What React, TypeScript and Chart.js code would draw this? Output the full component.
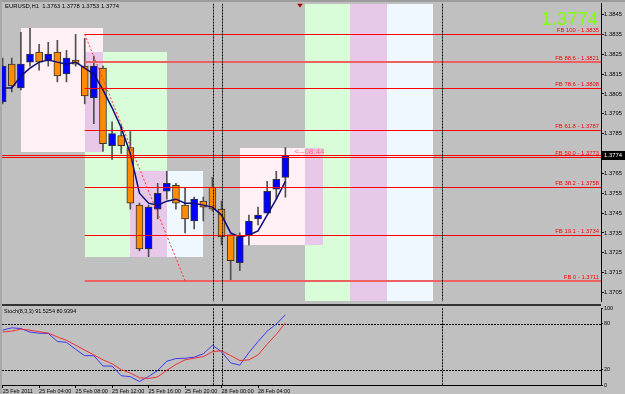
import React, { useEffect, useRef } from 'react';
import { Chart, registerables } from 'chart.js';

Chart.register(...registerables);

const symbolHeader = 'EURUSD,H1  1.3763 1.3778 1.3753 1.3774';
const stochHeader = 'Stoch(8,3,3) 91.5254 80.9394';

const opens = [1.3801, 1.3820, 1.3808, 1.3821, 1.3826, 1.3822, 1.3826, 1.3815, 1.3822, 1.3819, 1.3803, 1.3818, 1.3779, 1.3784, 1.3778, 1.3749, 1.3727, 1.3747, 1.3756, 1.3759, 1.3749, 1.3741, 1.3751, 1.3758, 1.3747, 1.3734, 1.3720, 1.3734, 1.3742, 1.3745, 1.3757, 1.3763];
const highs = [1.3823, 1.3823, 1.3836, 1.3838, 1.3830, 1.3831, 1.3832, 1.3827, 1.3835, 1.3833, 1.3824, 1.3819, 1.3791, 1.3789, 1.3786, 1.3750, 1.3749, 1.3760, 1.3766, 1.3760, 1.3758, 1.3753, 1.3753, 1.3763, 1.3751, 1.3734, 1.3735, 1.3744, 1.3748, 1.3761, 1.3766, 1.3778];
const lows = [1.3800, 1.3806, 1.3807, 1.3819, 1.3817, 1.3819, 1.3811, 1.3811, 1.3819, 1.3800, 1.3790, 1.3776, 1.3772, 1.3775, 1.3747, 1.3726, 1.3723, 1.3742, 1.3752, 1.3747, 1.3735, 1.3737, 1.3741, 1.3746, 1.3729, 1.3711, 1.3716, 1.3729, 1.3739, 1.3745, 1.3752, 1.3753];
const closes = [1.3819, 1.3809, 1.3820, 1.3825, 1.3821, 1.3825, 1.3814, 1.3823, 1.3820, 1.3804, 1.3819, 1.3780, 1.3785, 1.3779, 1.3750, 1.3727, 1.3748, 1.3755, 1.3760, 1.3750, 1.3742, 1.3752, 1.3748, 1.3747, 1.3733, 1.3721, 1.3733, 1.3741, 1.3744, 1.3756, 1.3762, 1.3774];
const maValues = [1.3808, 1.3808, 1.3814, 1.3818, 1.3821, 1.3822, 1.3821, 1.3820, 1.3821, 1.3818, 1.3815, 1.3807, 1.3798, 1.3788, 1.3775, 1.3755, 1.3750, 1.3749, 1.3751, 1.3752, 1.3750, 1.3750, 1.3749, 1.3748, 1.3744, 1.3735, 1.3733, 1.3734, 1.3736, 1.3744, 1.3752, 1.3761];

const stochMain = [71.5, 74.5, 73.6, 69, 67.5, 67.2, 56.7, 55.6, 46.5, 38.2, 38.2, 24.8, 24.6, 12.1, 10.8, 4.6, 11, 19, 31, 34.4, 34.9, 36.3, 40.6, 51.8, 43.3, 28.9, 25.9, 42.3, 56.6, 70.2, 79.4, 91.5];
const stochSignal = [69, 70.2, 72.8, 71.5, 69.4, 67.7, 62.6, 58.3, 51.9, 45.5, 39.2, 32.8, 27.7, 20, 15.7, 9.4, 8.5, 10.6, 19.2, 26.8, 32.8, 34.9, 37, 43.4, 44.7, 38.3, 31.9, 32.8, 39.2, 53.2, 66, 80.9];

const timeTickIndex = [0, 4, 8, 12, 16, 20, 24, 28];
const timeTickLabels = ['25 Feb 2011', '25 Feb 04:00', '25 Feb 08:00', '25 Feb 12:00', '25 Feb 16:00', '25 Feb 20:00', '28 Feb 00:00', '28 Feb 04:00'];
const priceTicks = [1.3705, 1.3715, 1.3725, 1.3735, 1.3745, 1.3755, 1.3765, 1.3775, 1.3785, 1.3795, 1.3805, 1.3815, 1.3825, 1.3835, 1.3845];
const stochTicks = [0, 20, 80, 100];
const stochLevels = [20, 80];

const fibNames = ['100', '88.6', '78.6', '61.8', '50.0', '38.2', '19.1', '0'];
const fibPrices = [1.3835, 1.3821, 1.3808, 1.3787, 1.3773, 1.3758, 1.3734, 1.3711];
const fibAnchorIndex = [9, 20];
const fibAnchorPrice = [1.3835, 1.3711];
const fullLinePrices = [1.3774, 1.3773];
const vLineIndex = [23.1, 24.1, 48.2];

const boxX0 = [2, 9, 14, 26];
const boxX1 = [11, 18, 22, 35.1];
const boxTop = [1.3838, 1.3826, 1.3766, 1.3778];
const boxBottom = [1.3776, 1.3723, 1.3723, 1.3729];
const boxKind = ['pink', 'green', 'blue', 'pink'];
const bandX0 = [33.1, 38.1, 42.1];
const bandX1 = [38.1, 42.1, 47.2];
const bandKind = ['green', 'purple', 'blue'];

const timerText = '<--08:44';
const timerIndex = 32;
const timerPrice = 1.3776;
const shiftMarkIndex = 32.6;

const xMin = -0.07;
const xMax = 65.6;
const yMin = 1.37005;
const yMax = 1.38505;

const shapeColor: Record<string, string> = {
  pink: '#fff0f5',
  green: '#d9fcd9',
  blue: '#f0f8ff',
  purple: '#e8c8e8',
};

function pickNarrow(): boolean {
  const c = document.createElement('canvas').getContext('2d');
  if (!c) return false;
  const s = 'FB 61.8 - 1.3787 Stoch';
  c.font = '20px "Liberation Sans"';
  const w0 = c.measureText(s).width;
  c.font = '20px "Liberation Sans Narrow", "Liberation Sans"';
  const w1 = c.measureText(s).width;
  return w1 < w0 * 0.92;
}

function line(ctx: CanvasRenderingContext2D, x0: number, y0: number, x1: number, y1: number) {
  ctx.beginPath();
  ctx.moveTo(x0, y0);
  ctx.lineTo(x1, y1);
  ctx.stroke();
}

function mainDecor(fam: string, k: number) {
  return {
    id: 'mainDecor',
    beforeDatasetsDraw(chart: any) {
      const { ctx, chartArea: a, scales } = chart;
      const x = scales.x;
      const y = scales.y;
      ctx.save();
      ctx.beginPath();
      ctx.rect(a.left, a.top, a.right - a.left, a.bottom - a.top);
      ctx.clip();
      const shapes = [
        ...bandKind.map((kind, i) => ({ x0: bandX0[i], x1: bandX1[i], t: yMax, b: yMin, kind })),
        ...boxKind.map((kind, i) => ({ x0: boxX0[i], x1: boxX1[i], t: boxTop[i], b: boxBottom[i], kind })),
      ];
      const fill = (x0: number, x1: number, t: number, b: number, color: string) => {
        const px0 = Math.round(x.getPixelForValue(x0));
        const px1 = Math.round(x.getPixelForValue(x1));
        const py0 = Math.round(y.getPixelForValue(t));
        const py1 = Math.round(y.getPixelForValue(b));
        ctx.fillStyle = color;
        ctx.fillRect(px0, py0, px1 - px0, py1 - py0);
      };
      shapes.forEach((s) => fill(s.x0, s.x1, s.t, s.b, shapeColor[s.kind]));
      for (let i = 0; i < shapes.length; i++) {
        for (let j = i + 1; j < shapes.length; j++) {
          const p = shapes[i];
          const q = shapes[j];
          if (p.kind === 'purple' || q.kind === 'purple') continue;
          if ((p.kind === 'green') === (q.kind === 'green')) continue;
          const x0 = Math.max(p.x0, q.x0);
          const x1 = Math.min(p.x1, q.x1);
          const t = Math.min(p.t, q.t);
          const b = Math.max(p.b, q.b);
          if (x1 > x0 && t > b) fill(x0, x1, t, b, shapeColor.purple);
        }
      }
      ctx.restore();
    },
    afterDatasetsDraw(chart: any) {
      const { ctx, chartArea: a, scales } = chart;
      const x = scales.x;
      const y = scales.y;
      ctx.save();
      ctx.beginPath();
      ctx.rect(a.left, a.top, a.right - a.left, a.bottom - a.top);
      ctx.clip();
      ctx.lineWidth = 1;
      ctx.strokeStyle = '#ff0000';
      fullLinePrices.forEach((p) => {
        const py = Math.round(y.getPixelForValue(p)) + 0.5;
        line(ctx, a.left, py, a.right, py);
      });
      const fx = x.getPixelForValue(fibAnchorIndex[0]);
      fibPrices.forEach((p, i) => {
        const name = fibNames[i];
        if (name === '88.6' || name === '0') {
          ctx.lineWidth = 2;
          ctx.strokeStyle = '#ec6262';
          const py = Math.round(y.getPixelForValue(p));
          line(ctx, fx, py, a.right, py);
        } else {
          ctx.lineWidth = 1;
          ctx.strokeStyle = '#ff0000';
          const py = Math.round(y.getPixelForValue(p)) + 0.5;
          line(ctx, fx, py, a.right, py);
        }
      });
      ctx.lineWidth = 1;
      ctx.setLineDash([2, 2]);
      ctx.strokeStyle = '#ff3030';
      line(
        ctx,
        x.getPixelForValue(fibAnchorIndex[0]),
        y.getPixelForValue(fibAnchorPrice[0]),
        x.getPixelForValue(fibAnchorIndex[1]),
        y.getPixelForValue(fibAnchorPrice[1])
      );
      ctx.setLineDash([2, 1]);
      ctx.strokeStyle = '#000000';
      vLineIndex.forEach((v) => {
        const px = Math.round(x.getPixelForValue(v)) + 0.5;
        line(ctx, px, a.top, px, a.bottom);
      });
      ctx.setLineDash([]);

      ctx.font = `${7 * k}px ${fam}`;
      ctx.fillStyle = '#ff0000';
      ctx.textAlign = 'right';
      ctx.textBaseline = 'alphabetic';
      fibPrices.forEach((p, i) => {
        ctx.fillText(`FB ${fibNames[i]} - ${p.toFixed(4)}`, a.right - 2, y.getPixelForValue(p) - 2);
      });

      ctx.font = '8px "Liberation Sans", sans-serif';
      ctx.fillStyle = '#ff6666';
      ctx.textAlign = 'left';
      ctx.textBaseline = 'middle';
      ctx.fillText(timerText, x.getPixelForValue(timerIndex), y.getPixelForValue(timerPrice));

      ctx.font = `${7 * k}px ${fam}`;
      ctx.fillStyle = '#000000';
      ctx.fillText(symbolHeader, 5, 6.5);

      ctx.font = `${22 * k}px ${fam}`;
      ctx.fillStyle = '#7fff00';
      ctx.textAlign = 'right';
      ctx.textBaseline = 'alphabetic';
      ctx.fillText(closes[closes.length - 1].toFixed(4), 598, 24.5);

      const sx = Math.round(x.getPixelForValue(shiftMarkIndex));
      ctx.fillStyle = '#a00000';
      ctx.beginPath();
      ctx.moveTo(sx - 3, a.top);
      ctx.lineTo(sx + 3, a.top);
      ctx.lineTo(sx, a.top + 4);
      ctx.closePath();
      ctx.fill();
      ctx.restore();
    },
    afterDraw(chart: any) {
      const { ctx, chartArea: a, scales } = chart;
      const y = scales.y;
      const last = closes[closes.length - 1];
      const py = Math.round(y.getPixelForValue(last));
      ctx.save();
      ctx.fillStyle = '#000000';
      ctx.fillRect(a.right + 1, py - 4, 24, 9);
      ctx.fillStyle = '#ffffff';
      ctx.font = `${7 * k}px ${fam}`;
      ctx.textAlign = 'left';
      ctx.textBaseline = 'middle';
      ctx.fillText(last.toFixed(4), a.right + 3, py + 0.5);
      ctx.restore();
    },
  };
}

function stochDecor(fam: string, k: number) {
  return {
    id: 'stochDecor',
    beforeDatasetsDraw(chart: any) {
      const { ctx, chartArea: a, scales } = chart;
      const x = scales.x;
      const y = scales.y;
      ctx.save();
      ctx.fillStyle = '#333333';
      ctx.fillRect(0, 0, a.right, 2);
      ctx.lineWidth = 1;
      ctx.strokeStyle = '#000000';
      ctx.setLineDash([2, 1]);
      stochLevels.forEach((lv) => {
        const py = Math.round(y.getPixelForValue(lv)) + 0.5;
        line(ctx, a.left, py, a.right, py);
      });
      vLineIndex.forEach((v) => {
        const px = Math.round(x.getPixelForValue(v)) + 0.5;
        line(ctx, px, a.top, px, a.bottom);
      });
      ctx.setLineDash([]);
      ctx.restore();
    },
    afterDraw(chart: any) {
      const { ctx } = chart;
      ctx.save();
      ctx.font = `${6.5 * k}px ${fam}`;
      ctx.fillStyle = '#000000';
      ctx.textAlign = 'left';
      ctx.textBaseline = 'middle';
      ctx.fillText(stochHeader, 4, 7.5);
      ctx.restore();
    },
  };
}

export default function App() {
  const mainRef = useRef<HTMLCanvasElement>(null);
  const stochRef = useRef<HTMLCanvasElement>(null);

  useEffect(() => {
    const narrow = pickNarrow();
    const fam = narrow
      ? '"Liberation Sans Narrow", "Liberation Sans", sans-serif'
      : '"Liberation Sans", sans-serif';
    const k = narrow ? 1 : 0.84;

    const mainChart = new Chart(mainRef.current as HTMLCanvasElement, {
      type: 'bar',
      data: {
        datasets: [
          {
            type: 'line',
            data: maValues.map((v, i) => ({ x: i, y: v })),
            borderColor: '#0c0c7a',
            borderWidth: 1.5,
            pointRadius: 0,
            tension: 0,
            fill: false,
            order: 1,
          } as any,
          {
            type: 'bar',
            data: opens.map((o, i) => ({ x: i, y: [o, closes[i]] })),
            backgroundColor: (c: any) =>
              closes[c.dataIndex] >= opens[c.dataIndex] ? '#0000ff' : '#ff8c00',
            borderColor: '#333333',
            borderWidth: 1,
            borderSkipped: false,
            barThickness: 7,
            grouped: false,
            order: 2,
          } as any,
          {
            type: 'bar',
            data: lows.map((l, i) => ({ x: i, y: [l, highs[i]] })),
            backgroundColor: '#505050',
            borderWidth: 0,
            barThickness: 1,
            grouped: false,
            order: 3,
          } as any,
        ],
      },
      options: {
        animation: false,
        responsive: false,
        events: [],
        layout: { padding: { left: 2, top: 2, right: 0, bottom: 2 } },
        plugins: { legend: { display: false }, tooltip: { enabled: false } },
        scales: {
          x: {
            type: 'linear',
            min: xMin,
            max: xMax,
            offset: false,
            display: false,
          },
          y: {
            type: 'linear',
            position: 'right',
            min: yMin,
            max: yMax,
            afterBuildTicks: (s: any) => {
              s.ticks = priceTicks.map((v) => ({ value: v }));
            },
            afterFit: (s: any) => {
              s.width = 24;
            },
            grid: { drawOnChartArea: false, drawTicks: true, tickLength: 3, color: '#000000' },
            border: { display: true, color: '#000000', width: 1 },
            ticks: {
              autoSkip: false,
              padding: 0,
              color: '#000000',
              font: { family: fam, size: 7 * k },
              callback: (v: any) => Number(v).toFixed(4),
            },
          },
        },
      } as any,
      plugins: [mainDecor(fam, k)],
    });

    const stochChart = new Chart(stochRef.current as HTMLCanvasElement, {
      type: 'line',
      data: {
        datasets: [
          {
            data: stochSignal.map((v, i) => ({ x: i, y: v })),
            borderColor: '#f03030',
            borderWidth: 1,
            pointRadius: 0,
            tension: 0,
            fill: false,
          },
          {
            data: stochMain.map((v, i) => ({ x: i, y: v })),
            borderColor: '#3a3af0',
            borderWidth: 1,
            pointRadius: 0,
            tension: 0,
            fill: false,
          },
        ],
      },
      options: {
        animation: false,
        responsive: false,
        events: [],
        layout: { padding: { left: 2, top: 2, right: 0, bottom: 0 } },
        plugins: { legend: { display: false }, tooltip: { enabled: false } },
        scales: {
          x: {
            type: 'linear',
            position: 'bottom',
            min: xMin,
            max: xMax,
            offset: false,
            afterBuildTicks: (s: any) => {
              s.ticks = timeTickIndex.map((v) => ({ value: v }));
            },
            afterFit: (s: any) => {
              s.height = 9;
            },
            grid: { drawOnChartArea: false, drawTicks: true, tickLength: 3, color: '#000000' },
            border: { display: true, color: '#000000', width: 1 },
            ticks: {
              autoSkip: false,
              maxRotation: 0,
              minRotation: 0,
              align: 'start',
              padding: 0,
              color: '#000000',
              font: { family: fam, size: 6.5 * k },
              callback: (v: any) => timeTickLabels[timeTickIndex.indexOf(Number(v))] ?? '',
            },
          },
          y: {
            type: 'linear',
            position: 'right',
            min: 0,
            max: 100,
            afterBuildTicks: (s: any) => {
              s.ticks = stochTicks.map((v) => ({ value: v }));
            },
            afterFit: (s: any) => {
              s.width = 24;
            },
            grid: { drawOnChartArea: false, drawTicks: true, tickLength: 2, color: '#000000' },
            border: { display: true, color: '#000000', width: 1 },
            ticks: {
              autoSkip: false,
              padding: 1,
              color: '#000000',
              font: { family: fam, size: 6.5 * k },
              callback: (v: any) => String(v),
            },
          },
        },
      } as any,
      plugins: [stochDecor(fam, k)],
    });

    return () => {
      mainChart.destroy();
      stochChart.destroy();
    };
  }, []);

  return (
    <div
      style={{
        position: 'fixed',
        left: 0,
        top: 0,
        width: 625,
        height: 394,
        background: '#c0c0c0',
        overflow: 'hidden',
      }}
    >
      <canvas
        ref={mainRef}
        width={625}
        height={305}
        style={{ position: 'absolute', left: 0, top: 0, width: 625, height: 305 }}
      />
      <canvas
        ref={stochRef}
        width={625}
        height={90}
        style={{ position: 'absolute', left: 0, top: 304, width: 625, height: 90 }}
      />
      <div style={{ position: 'absolute', left: 0, top: 0, width: 625, height: 2, background: '#9c9c9c' }} />
      <div style={{ position: 'absolute', left: 0, top: 0, width: 2, height: 394, background: '#a8a8a8' }} />
    </div>
  );
}
